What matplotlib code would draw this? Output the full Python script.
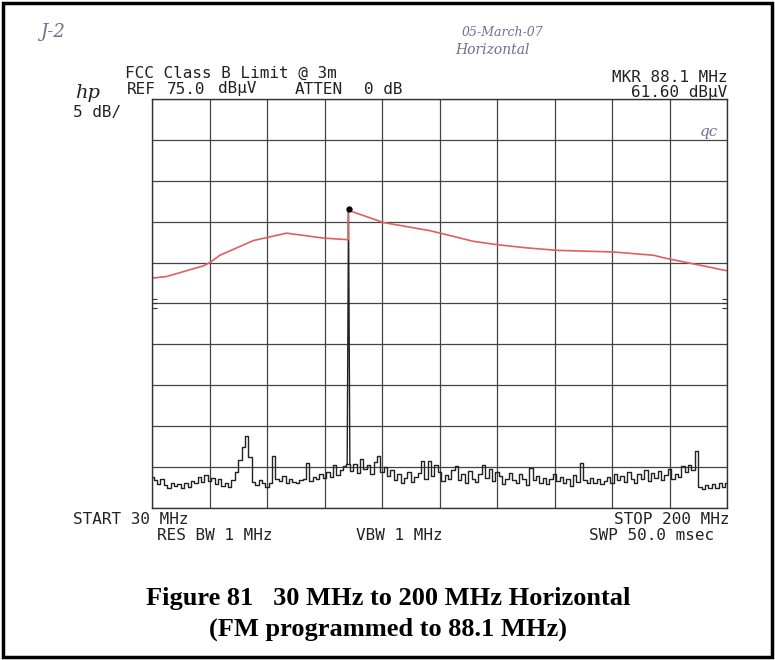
import numpy as np
import matplotlib
matplotlib.use('Agg')
import matplotlib.pyplot as plt

# sweep: 30-200 MHz, 1 MHz per point, levels in dBuV
start_mhz = 30
stop_mhz = 200
trace_db = [
    28.8, 28.4, 27.9, 28.6, 27.8, 27.5, 28.1, 27.7, 27.9, 27.4,
    28.0, 27.6, 28.3, 28.1, 28.8, 28.2, 29.0, 28.3, 28.7, 27.9,
    28.5, 27.7, 28.1, 27.6, 28.4, 29.4, 30.9, 32.5, 33.8, 31.2,
    28.2, 27.8, 28.4, 28.0, 27.6, 28.1, 31.3, 28.6, 28.3, 28.9,
    28.1, 28.5, 28.2, 28.0, 28.4, 28.6, 30.5, 28.3, 28.8, 28.6,
    29.1, 28.7, 29.4, 28.8, 30.2, 29.0, 29.6, 30.1, 30.4, 29.5,
    30.4, 29.3, 31.0, 29.8, 30.2, 29.1, 30.6, 31.3, 29.4, 30.0,
    28.9, 29.6, 28.4, 29.2, 28.1, 28.7, 29.4, 28.2, 28.8, 29.3,
    30.7, 28.6, 30.8, 28.9, 30.2, 29.4, 28.3, 29.0, 28.5, 29.6,
    30.1, 28.4, 29.2, 28.0, 29.5, 28.6, 28.2, 29.1, 30.3, 28.7,
    29.8, 28.3, 29.4, 28.9, 27.9, 28.5, 29.3, 28.4, 28.0, 29.2,
    28.6, 27.8, 29.9, 28.4, 28.9, 28.1, 28.7, 27.9, 28.5, 29.1,
    28.3, 28.8, 28.0, 28.6, 27.7, 29.0, 28.2, 30.5, 28.4, 28.1,
    28.7, 28.0, 28.5, 27.9, 28.3, 28.8, 28.1, 29.2, 28.4, 28.9,
    28.2, 29.4, 28.6, 28.0, 29.1, 28.5, 29.6, 28.3, 29.3, 28.7,
    29.5, 28.4, 29.0, 29.8, 28.6, 29.2, 28.8, 30.1, 29.4, 30.3,
    29.7, 32.0, 27.6, 27.3, 27.8, 27.4, 27.9, 27.5, 28.0, 27.6,
    28.1,
]

# FM carrier (marker)
carrier_mhz = [87.7, 88.1, 88.5]
carrier_db = [30.4, 61.6, 30.4]
mkr_mhz = 88.1
mkr_db = 61.6

# FCC class B limit line (red)
limit_mhz = [30.0, 34.3, 45.2, 47.1, 50.1, 60.0, 69.8, 80.6, 88.0,
             88.0, 98.4, 112.2, 115.2, 125.0, 131.9, 140.8, 149.7,
             166.4, 178.2, 182.2, 193.0, 200.0]
limit_db = [53.1, 53.3, 54.6, 55.0, 55.9, 57.7, 58.6, 58.0, 57.8,
            61.4, 59.9, 58.9, 58.6, 57.6, 57.2, 56.8, 56.5,
            56.3, 55.9, 55.5, 54.6, 54.0]

ref_db = 75.0
db_per_div = 5

W, H = 775, 660
fig = plt.figure(figsize=(W / 100, H / 100), dpi=100)

def px(x, y):
    return x / W, 1 - y / H

# outer frame
fig.patches.append(plt.Rectangle((0.004, 0.004), 0.992, 0.991, transform=fig.transFigure,
                                 fill=False, lw=2.5, ec='black'))

ax = fig.add_axes([152 / W, 1 - 508 / H, 575 / W, 409 / H])

f = np.linspace(start_mhz, stop_mhz, len(trace_db))
ax.plot(f, trace_db, color='#222222', lw=1.0, drawstyle='steps-mid')
ax.plot(carrier_mhz, carrier_db, color='#222222', lw=1.0)
ax.plot(limit_mhz, limit_db, color='#e06060', lw=1.2)
ax.plot([mkr_mhz], [mkr_db], marker='o', ms=3.5, color='black')

# little display-line marks on the side edges
ax.plot([30.6] * 3, [49.4, 50.0, 50.6], ls='', marker='_', ms=5, mew=0.8, color='#333333')
ax.plot([199.4] * 3, [49.4, 50.0, 50.6], ls='', marker='_', ms=5, mew=0.8, color='#333333')

ax.set_xlim(start_mhz, stop_mhz)
ax.set_ylim(ref_db - 10 * db_per_div, ref_db)
ax.set_xticks(np.linspace(start_mhz, stop_mhz, 11))
ax.set_yticks(np.arange(ref_db - 10 * db_per_div, ref_db + 1, db_per_div))
ax.grid(True, color='#444444', lw=0.9)
ax.tick_params(length=0, labelbottom=False, labelleft=False)
for s in ax.spines.values():
    s.set_color('#333333')
    s.set_linewidth(1.0)

mono = dict(family='DejaVu Sans Mono', fontsize=11.5, color='#222222')

fig.text(*px(125, 73), 'FCC Class B Limit @ 3m', va='center', ha='left', **mono)
fig.text(*px(127, 89), 'REF', va='center', ha='left', **mono)
fig.text(*px(167, 89), '75.0', va='center', ha='left', **mono)
fig.text(*px(218, 89), 'dBµV', va='center', ha='left', **mono)
fig.text(*px(295, 89), 'ATTEN', va='center', ha='left', **mono)
fig.text(*px(364, 89), '0 dB', va='center', ha='left', **mono)
fig.text(*px(73, 113), '5 dB/', va='center', ha='left', **mono)
fig.text(*px(727, 77), 'MKR 88.1 MHz', va='center', ha='right', **mono)
fig.text(*px(727, 92), '61.60 dBµV', va='center', ha='right', **mono)

fig.text(*px(73, 520), 'START 30 MHz', va='center', ha='left', **mono)
fig.text(*px(729, 520), 'STOP 200 MHz', va='center', ha='right', **mono)
fig.text(*px(157, 535), 'RES BW 1 MHz', va='center', ha='left', **mono)
fig.text(*px(356, 535), 'VBW 1 MHz', va='center', ha='left', **mono)
fig.text(*px(714, 535), 'SWP 50.0 msec', va='center', ha='right', **mono)

# hp logo and handwritten notes
fig.text(*px(75, 93), 'hp', va='center', ha='left', family='DejaVu Serif',
         style='italic', fontsize=14, color='#222222')
hand = dict(family='DejaVu Serif', style='italic', color='#7a6a90')
fig.text(*px(40, 32), 'J-2', va='center', ha='left', fontsize=13, **hand)
fig.text(*px(462, 33), '05-March-07', va='center', ha='left', fontsize=9, **hand)
fig.text(*px(455, 50), 'Horizontal', va='center', ha='left', fontsize=10, **hand)
fig.text(*px(700, 132), 'qc', va='center', ha='left', fontsize=11, **hand)

cap = dict(family='Liberation Serif', weight='bold', fontsize=19, ha='center', va='center')
fig.text(*px(388, 598), 'Figure 81   30 MHz to 200 MHz Horizontal', **cap)
fig.text(*px(388, 629), '(FM programmed to 88.1 MHz)', **cap)

fig.savefig('out.png', dpi=100)
